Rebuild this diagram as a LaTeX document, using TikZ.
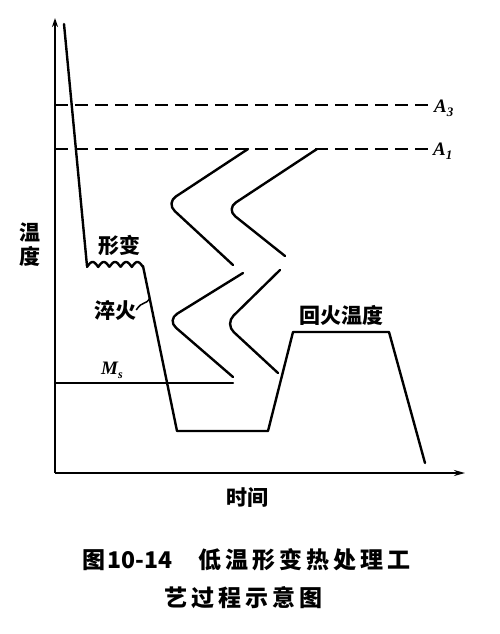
\documentclass[tikz,border=0pt]{standalone}
\usepackage{fontspec}
\newfontfamily\cjk{Noto Sans CJK SC}
\newfontfamily\ser{Liberation Serif}
\usetikzlibrary{arrows.meta}
\newcommand\spc[1]{\hspace{#1}}
\begin{document}
\begin{tikzpicture}[x=1pt,y=-1pt,
  curve/.style={line width=2.4pt,line join=round,line cap=round},
  axis/.style={line width=2.4pt},
  dashline/.style={line width=1.9pt,dash pattern=on 13pt off 7pt},
  lbl/.style={font=\cjk\bfseries\fontsize{21}{23}\selectfont,inner sep=0pt},
  captext/.style={font=\cjk\bfseries\fontsize{23}{25}\selectfont,inner sep=0pt},
  sym/.style={font=\ser\bfseries\itshape\fontsize{19}{20}\selectfont,inner sep=0pt}]
\useasboundingbox (0,0) rectangle (500,634);
% axes
\coordinate (O) at (55,473);
\coordinate (Ytop) at (55,18);
\coordinate (Xend) at (465,473);
\draw[axis,-{Stealth[length=9pt,width=6pt]}] (O) -- (Ytop);
\draw[axis,-{Stealth[length=11pt,width=6pt]}] (O) -- (Xend);
% critical temperatures
\coordinate (a3s) at (55,105);
\coordinate (a3e) at (430,105);
\coordinate (a1s) at (55,149);
\coordinate (a1e) at (430,149);
\draw[dashline] (a3s) -- (a3e);
\draw[dashline] (a1s) -- (a1e);
\node[sym,anchor=west] (A3) at (434,108) {A\raisebox{-4pt}{\fontsize{13}{13}\selectfont 3}};
\node[sym,anchor=west] (A1) at (433,151) {A\raisebox{-4pt}{\fontsize{13}{13}\selectfont 1}};
% Ms line
\coordinate (ms0) at (55,383);
\coordinate (ms1) at (233,383);
\draw[curve] (ms0) -- (ms1);
\node[sym] (Ms) at (112,370) {M\raisebox{-4pt}{\fontsize{12}{12}\selectfont s}};
% process curve
\coordinate (p0) at (64,24);
\coordinate (p1) at (87,266);
\coordinate (p2) at (143,266);
\coordinate (p3) at (177,431);
\coordinate (p4) at (268,431);
\coordinate (p5) at (293,332);
\coordinate (p6) at (389,332);
\coordinate (p7) at (425,463);
\draw[curve] (p0) -- (p1);
\draw[curve] plot[domain=0:56,samples=120] ({87+\x},{267-5*abs(sin(\x*180/11.2))});
\draw[curve] (p2) -- (p3) -- (p4) -- (p5) -- (p6) -- (p7);
% C-curves
\draw[curve,rounded corners=12pt] (248,149) -- (166,203) -- (233,265);
\draw[curve,rounded corners=12pt] (317,149) -- (226,209) -- (285,256);
\draw[curve,rounded corners=12pt] (243,273) -- (167,320) -- (233,377);
\draw[curve,rounded corners=12pt] (280,270) -- (225,324) -- (278,373);
% labels
\node[lbl] (xb) at (119,245) {形变};
\node[lbl] (cq) at (115,310) {淬火};
\coordinate (cqe) at (150,298);
\draw[line width=1.5pt] (cq.east) .. controls (143,300) and (145,306) .. (cqe);
\node[lbl] (hh) at (341,315) {回火温度};
\node[lbl,align=center] (wd) at (30,245) {温\\[1pt]度};
\node[lbl] (sj) at (247,498) {时间};
\node[captext,anchor=west] (c1) at (82,560) {图\spc{2pt}10-14\spc{26pt}低\spc{4pt}温\spc{4pt}形\spc{4pt}变\spc{4pt}热\spc{4pt}处\spc{4pt}理\spc{4pt}工};
\node[captext,anchor=west] (c2) at (164,598) {艺\spc{4pt}过\spc{4pt}程\spc{4pt}示\spc{4pt}意\spc{4pt}图};
\end{tikzpicture}
\end{document}
